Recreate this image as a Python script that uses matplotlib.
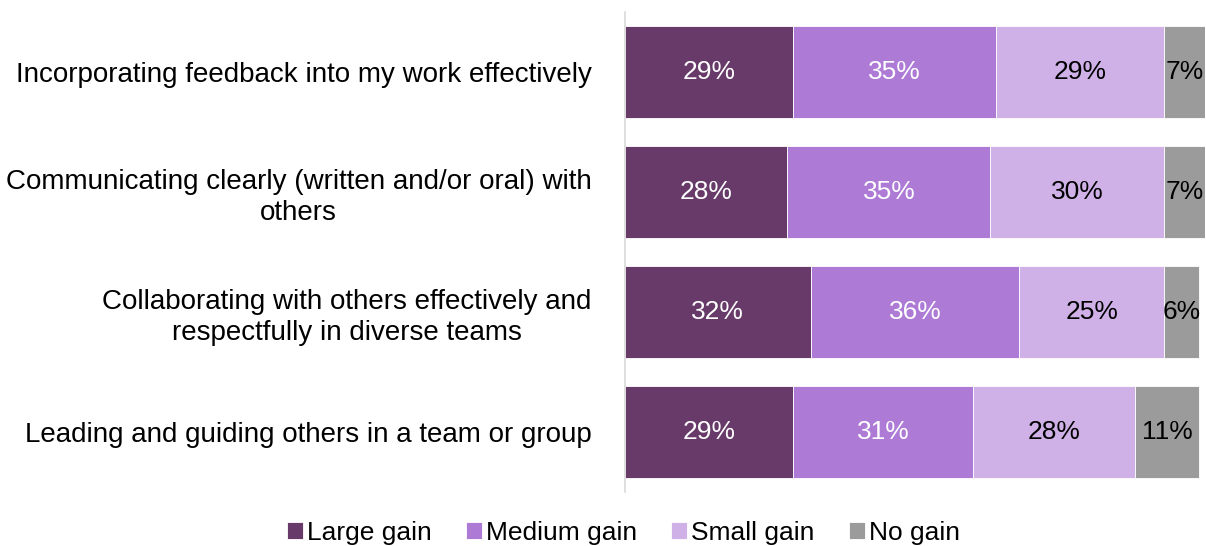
import matplotlib.pyplot as plt

# Skill gain survey data (percent of respondents)
categories = [
    "Incorporating feedback into my work effectively",
    "Communicating clearly (written and/or oral) with\nothers",
    "Collaborating with others effectively and\nrespectfully in diverse teams",
    "Leading and guiding others in a team or group",
]
series_names = ["Large gain", "Medium gain", "Small gain", "No gain"]
large = [29, 28, 32, 29]
medium = [35, 35, 36, 31]
small = [29, 30, 25, 28]
none_ = [7, 7, 6, 11]

colors = ["#673A6A", "#AD7AD6", "#CFB1E7", "#9B9B9B"]
text_colors = ["white", "white", "black", "black"]

plt.rcParams['font.family'] = ['Liberation Sans', 'DejaVu Sans']

fig = plt.figure(figsize=(12.06, 5.46), dpi=100)
ax = fig.add_axes([0.5182, 0.0989, 0.4810, 0.8791])

y = list(range(len(categories)))
left = [0] * len(categories)
for name, vals, c, tc in zip(series_names, [large, medium, small, none_], colors, text_colors):
    ax.barh(y, vals, left=left, height=0.767, color=c, label=name,
            edgecolor='white', linewidth=0.6)
    for yi, l, v in zip(y, left, vals):
        ax.text(l + v / 2, yi, f"{v}%", ha='center', va='center',
                color=tc, fontsize=19)
    left = [a + b for a, b in zip(left, vals)]

ax.set_xlim(0, 100)
ax.set_ylim(3.5, -0.5)
ax.set_yticks(y)
ax.set_yticklabels(categories, fontsize=20, multialignment='center',
                   linespacing=1.25)
ax.tick_params(axis='y', length=0, pad=24)
ax.set_xticks([])
for s in ['top', 'right', 'bottom']:
    ax.spines[s].set_visible(False)
ax.spines['left'].set_color('#D9D9D9')
ax.spines['left'].set_linewidth(1.2)

fig.legend(loc='center', bbox_to_anchor=(0.517, 0.024), ncol=4, frameon=False,
           fontsize=19, handlelength=0.6, handleheight=0.6,
           handletextpad=0.15, columnspacing=1.3, borderaxespad=0)

plt.savefig("out.png", dpi=100)
